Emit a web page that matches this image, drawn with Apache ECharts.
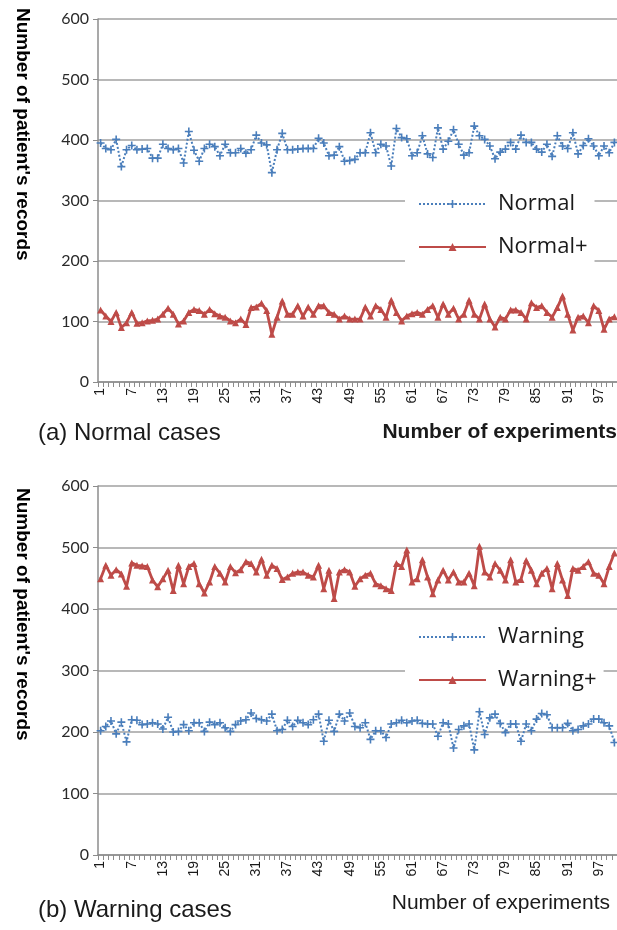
<!DOCTYPE html>
<html><head><meta charset="utf-8">
<script src="https://cdn.jsdelivr.net/npm/echarts@6.0.0/dist/echarts.min.js"></script>
<style>html,body{margin:0;padding:0;background:#fff}#c{width:617px;height:930px}</style>
</head><body><div id="c"></div>
<script>
const experiments = Array.from({length: 100}, (_, i) => String(i + 1));
const normal = [395,386,384,401,356,384,391,384,385,386, 370,370,393,386,384,386,362,414,383,365,
  386,393,389,374,393,379,379,386,378,384, 408,395,392,346,384,411,384,384,385,386,
  386,386,403,395,374,375,389,365,366,368, 379,379,412,379,393,390,357,419,404,402,
  374,379,407,377,371,420,385,398,417,393, 375,379,423,407,401,390,369,380,385,396,
  385,408,396,396,385,380,393,373,407,390, 386,412,377,391,402,390,374,390,379,396];
const normalPlus = [119,109,100,115,90,98,115,97,98,101, 102,104,112,122,112,96,101,115,120,118,
  112,120,113,109,107,101,98,104,95,123, 124,130,118,79,107,134,112,112,126,109,
  124,112,126,126,115,112,104,109,104,104, 104,124,109,126,120,107,135,115,101,109,
  113,115,112,120,126,107,129,112,122,104, 112,135,112,104,129,104,91,107,104,119,
  119,115,104,131,123,126,115,107,123,142, 112,86,107,109,98,126,118,87,104,108];
const warning = [202,209,218,197,216,184,220,219,212,213, 215,213,205,224,200,201,212,202,215,215,
  201,216,212,215,207,201,212,218,220,231, 222,220,218,229,202,204,219,209,219,215,
  212,220,229,185,219,201,229,218,231,209, 207,215,188,202,202,191,213,215,219,215,
  218,219,214,213,213,193,215,213,174,204, 210,213,171,233,196,223,229,214,199,213,
  213,185,213,202,221,230,228,207,207,207, 214,202,204,210,213,221,221,215,210,183];
const warningPlus = [449,471,455,464,457,437,475,471,470,469, 447,436,449,463,430,471,441,469,474,441,
  426,444,469,458,444,469,459,464,477,474, 460,481,455,471,466,448,452,458,460,460,
  455,452,471,433,463,417,460,464,460,437, 449,455,458,441,438,433,430,474,469,496,
  444,449,480,452,425,447,463,447,460,444, 444,458,438,502,460,452,474,463,447,480,
  444,448,479,463,441,458,466,433,474,447, 422,466,463,469,477,458,455,441,469,491];
const seriesNames = ['Normal', 'Normal+', 'Warning', 'Warning+'];
const yTitle = "Number of patient's records";
const xTitle = 'Number of experiments';
const panelTitles = ['(a) Normal cases', '(b) Warning cases'];

const BLUE = '#4A7EBB', RED = '#BE4B48', AX = '#8c8c8c';
const plus = 'path://M4,0 L6,0 L6,4 L10,4 L10,6 L6,6 L6,10 L4,10 L4,6 L0,6 L0,4 L4,4 Z';

function xAxis(g) {
  return { type: 'category', gridIndex: g, data: experiments, boundaryGap: true,
    axisLine: { lineStyle: { color: AX, width: 1.5 } },
    axisTick: { show: true, interval: 0, length: 5, lineStyle: { color: AX } },
    axisLabel: { interval: 5, rotate: 90, fontSize: 14, fontFamily: 'Liberation Sans', color: '#1a1a1a', margin: 6 },
    splitLine: { show: false } };
}
function yAxis(g) {
  return { type: 'value', gridIndex: g, min: 0, max: 600, interval: 100,
    axisLine: { show: true, lineStyle: { color: AX, width: 1.5 } },
    axisTick: { show: true, length: 5, lineStyle: { color: AX } },
    axisLabel: { fontSize: 16, fontFamily: 'Lato', color: '#2a2a2a', margin: 9 },
    splitLine: { lineStyle: { color: '#a0a0a0', width: 1.5 } } };
}
function blueSeries(name, data, g) {
  return { name, type: 'line', xAxisIndex: g, yAxisIndex: g, data, symbol: plus, symbolSize: 8, showAllSymbol: true,
    lineStyle: { type: 'dotted', width: 2, color: BLUE }, itemStyle: { color: BLUE } };
}
function redSeries(name, data, g) {
  return { name, type: 'line', xAxisIndex: g, yAxisIndex: g, data, symbol: 'triangle', symbolSize: 7, showAllSymbol: true,
    lineStyle: { width: 2.8, color: RED }, itemStyle: { color: RED } };
}
function legend(names, top) {
  return { data: names, orient: 'vertical', left: 405, top, itemWidth: 67, itemHeight: 10, itemGap: 19,
    backgroundColor: '#fff', padding: [5, 7, 10, 13],
    textStyle: { fontFamily: 'Open Sans', fontSize: 22, color: '#1a1a1a', lineHeight: 24, padding: [0, 0, 0, 7] } };
}
function vtitle(x, y) {
  return { type: 'text', x, y, rotation: -Math.PI / 2,
    style: { text: yTitle, x: 0, y: 0, align: 'left', verticalAlign: 'middle', font: 'bold 19px "Liberation Sans"', fill: '#000' } };
}
function label(text, x, y, font, align) {
  return { type: 'text', x, y, style: { text, x: 0, y: 0, align: align || 'left', verticalAlign: 'middle', font, fill: '#1a1a1a' } };
}

const chart = echarts.init(document.getElementById('c'), null, { renderer: 'canvas' });
chart.setOption({
  animation: false,
  backgroundColor: '#fff',
  grid: [
    { left: 98, top: 19, width: 519, height: 363 },
    { left: 98, top: 486, width: 519, height: 369 }
  ],
  xAxis: [xAxis(0), xAxis(1)],
  yAxis: [yAxis(0), yAxis(1)],
  legend: [legend([seriesNames[0], seriesNames[1]], 187), legend([seriesNames[2], seriesNames[3]], 620)],
  series: [
    blueSeries(seriesNames[0], normal, 0),
    redSeries(seriesNames[1], normalPlus, 0),
    blueSeries(seriesNames[2], warning, 1),
    redSeries(seriesNames[3], warningPlus, 1)
  ],
  graphic: [
    vtitle(22, 8),
    vtitle(22, 488),
    label(panelTitles[0], 38, 433, '24px "Liberation Sans"'),
    label(xTitle, 617, 432, 'bold 21px "Liberation Sans"', 'right'),
    label(panelTitles[1], 38, 910, '24px "Liberation Sans"'),
    label(xTitle, 610, 903, '21px "Liberation Sans"', 'right')
  ]
});
</script></body></html>
